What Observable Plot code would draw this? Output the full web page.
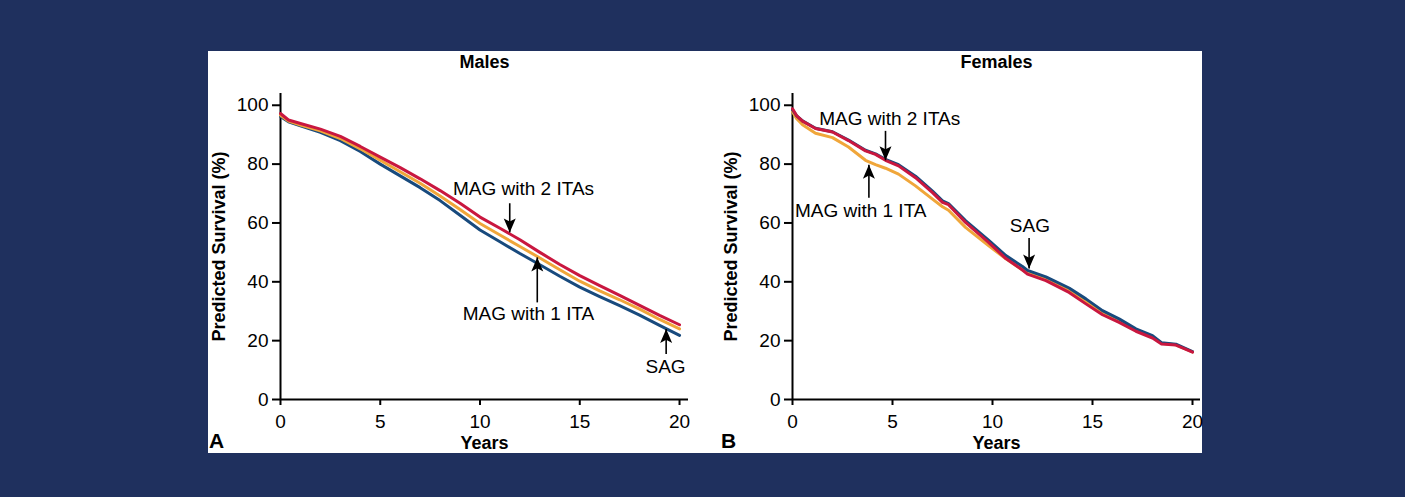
<!DOCTYPE html>
<html>
<head>
<meta charset="utf-8">
<script src="https://cdn.jsdelivr.net/npm/d3@7"></script>
<script src="https://cdn.jsdelivr.net/npm/@observablehq/plot@0.6"></script>
<style>
  html, body { margin: 0; padding: 0; background: #1f305e; }
  body { width: 1405px; height: 497px; position: relative; overflow: hidden; }
  #panel { position: absolute; left: 208px; top: 51px; width: 994px; height: 402px; background: #ffffff; }
  #males { position: absolute; left: 0; top: 0; }
  #females { position: absolute; left: 500px; top: 0; }
  svg { display: block; }
</style>
</head>
<body>
<div id="panel"><div id="males"></div><div id="females"></div></div>
<script>
// Predicted survival (%) by years after surgery, per graft strategy.
const seriesNames = ["SAG", "MAG with 1 ITA", "MAG with 2 ITAs"];
const xTicks = [0, 5, 10, 15, 20];
const yTicks = [0, 20, 40, 60, 80, 100];

// Males
const maleYears = [0, 0.4, 1, 2, 3, 4, 5, 6, 7, 8, 9, 10, 11, 12, 13, 14, 15, 16, 17, 18, 19, 20];
const maleSAG   = [96.2, 94.4, 93.0, 90.8, 88.0, 84.3, 80.0, 76.0, 72.0, 67.6, 62.6, 57.6, 53.6, 49.6, 45.8, 41.9, 38.2, 35.0, 31.9, 28.7, 25.2, 21.8];
const maleMAG1  = [96.6, 94.6, 93.3, 91.3, 88.7, 85.2, 81.3, 77.4, 73.5, 69.2, 64.6, 59.8, 55.9, 52.0, 48.1, 44.1, 40.2, 36.9, 33.9, 30.7, 27.2, 24.0];
const maleMAG2  = [97.2, 95.0, 93.8, 91.9, 89.4, 86.0, 82.4, 78.8, 75.0, 71.0, 66.7, 62.0, 58.2, 54.3, 50.0, 45.9, 42.1, 38.7, 35.4, 32.0, 28.6, 25.4];

// Females
const femaleYears = [0, 0.2, 0.5, 1.15, 2, 2.8, 3.65, 4.15, 4.65, 5.3, 6.15, 7, 7.5, 7.8, 8.65, 9.8, 10.67, 11.5, 11.75, 12.67, 13.83, 14.67, 15.5, 16.33, 17.17, 18, 18.45, 19.17, 20];
const femaleSAG  = [98.5, 96.5, 94.7, 92.2, 91.0, 88.2, 84.7, 83.5, 81.6, 79.8, 75.9, 70.8, 67.5, 66.6, 60.8, 54.2, 48.9, 45.2, 43.9, 41.7, 37.9, 34.2, 30.2, 27.4, 24.0, 21.7, 19.3, 18.8, 16.3];
const femaleMAG1 = [97.8, 95.5, 93.4, 90.5, 89.0, 85.8, 81.3, 79.8, 78.6, 76.6, 72.6, 68.1, 65.5, 64.3, 58.5, 52.3, 47.8, 44.0, 43.0, 41.0, 37.0, 33.3, 29.5, 26.8, 23.6, 21.3, 19.1, 18.6, 16.2];
const femaleMAG2 = [98.8, 96.5, 94.6, 92.1, 90.9, 88.0, 84.5, 83.3, 81.3, 79.4, 75.4, 70.3, 67.0, 66.2, 60.2, 53.4, 47.9, 44.0, 42.6, 40.4, 36.4, 32.5, 28.8, 26.2, 23.2, 20.9, 18.9, 18.5, 16.1];

// Arrow annotations: arrow at year x from tail value to tip value, label centred at (lx, ly)
const maleNotes = [
  {label: "MAG with 2 ITAs", x: 11.49, tail: 66.7, tip: 56.8, lx: 12.18, ly: 71.6},
  {label: "MAG with 1 ITA",  x: 12.87, tail: 33.0, tip: 48.3, lx: 12.43, ly: 29.2},
  {label: "SAG",             x: 19.33, tail: 15.5, tip: 24.0, lx: 19.30, ly: 11.0}
];
const femaleNotes = [
  {label: "MAG with 2 ITAs", x: 4.65,  tail: 91.3, tip: 81.3, lx: 4.86,  ly: 95.3},
  {label: "MAG with 1 ITA",  x: 3.82,  tail: 68.6, tip: 79.8, lx: 3.41,  ly: 64.0},
  {label: "SAG",             x: 11.83, tail: 54.9, tip: 44.5, lx: 11.87, ly: 59.0}
];

const colors = {"SAG": "#184a7d", "MAG with 1 ITA": "#f0a63a", "MAG with 2 ITAs": "#c9173f"};

function toRows(years, sag, mag1, mag2) {
  const rows = [];
  [sag, mag1, mag2].forEach((vals, k) => {
    years.forEach((t, i) => rows.push({series: seriesNames[k], year: t, survival: vals[i]}));
  });
  return rows;
}

// Filled arrow head, tip at (0, -l)
const arrowHead = {
  draw(context, l) {
    const w = 6;
    context.moveTo(0, -l);
    context.lineTo(w, 0);
    context.lineTo(0, -l * 0.22);
    context.lineTo(-w, 0);
    context.closePath();
  }
};

function survivalPlot({rows, notes, title, letter, width, marginLeft, marginRight, xMax, order}) {
  const font = "'Liberation Sans', Arial, Helvetica, sans-serif";
  return Plot.plot({
    width, height: 402,
    marginLeft, marginRight, marginTop: 42, marginBottom: 54,
    style: {fontFamily: font, fontSize: "19px", background: "white", color: "black", overflow: "visible"},
    x: {domain: [0, xMax]},
    y: {domain: [0, 104]},
    marks: [
      Plot.axisX({ticks: xTicks, tickSize: 6, tickPadding: 9, strokeWidth: 2, label: null, fontSize: 19}),
      Plot.axisY({ticks: yTicks, tickSize: 8, tickPadding: 4, strokeWidth: 2, label: null, fontSize: 19}),
      Plot.ruleX([0], {stroke: "black", strokeWidth: 2}),
      Plot.ruleY([0], {stroke: "black", strokeWidth: 2}),
      ...order.map(name => Plot.line(rows.filter(d => d.series === name), {
        x: "year", y: "survival", stroke: colors[name], strokeWidth: 3, strokeLinejoin: "round"
      })),
      Plot.link(notes, {x1: "x", x2: "x", y1: "tail", y2: "tip", stroke: "black", strokeWidth: 1.6}),
      Plot.vector(notes, {
        x: "x", y: "tip", length: 14, anchor: "end",
        rotate: d => d.tail > d.tip ? 180 : 0,
        shape: arrowHead, fill: "black", stroke: "none"
      }),
      Plot.text(notes, {x: "lx", y: "ly", text: "label", fontSize: 19, fill: "black", lineAnchor: "middle"}),
      Plot.text([title], {text: d => d, frameAnchor: "top", dy: -31, fontSize: 18, fontWeight: "bold", lineAnchor: "middle"}),
      Plot.text(["Years"], {text: d => d, frameAnchor: "bottom", dy: 44, fontSize: 18, fontWeight: "bold", lineAnchor: "middle"}),
      Plot.text([letter], {text: d => d, frameAnchor: "bottom-left", dx: -64, dy: 42, fontSize: 21, fontWeight: "bold", lineAnchor: "middle", textAnchor: "middle"}),
      Plot.text(["Predicted Survival (%)"], {text: d => d, frameAnchor: "left", dx: -61, rotate: -90, fontSize: 18, fontWeight: "bold", lineAnchor: "middle", textAnchor: "middle"})
    ]
  });
}

document.getElementById("males").append(survivalPlot({
  rows: toRows(maleYears, maleSAG, maleMAG1, maleMAG2),
  notes: maleNotes, title: "Males", letter: "A",
  width: 500, marginLeft: 72, marginRight: 20, xMax: 20.45,
  order: ["SAG", "MAG with 1 ITA", "MAG with 2 ITAs"]
}));

document.getElementById("females").append(survivalPlot({
  rows: toRows(femaleYears, femaleSAG, femaleMAG1, femaleMAG2),
  notes: femaleNotes, title: "Females", letter: "B",
  width: 494, marginLeft: 84, marginRight: 2, xMax: 20.4,
  order: ["MAG with 1 ITA", "SAG", "MAG with 2 ITAs"]
}));
</script>
</body>
</html>
